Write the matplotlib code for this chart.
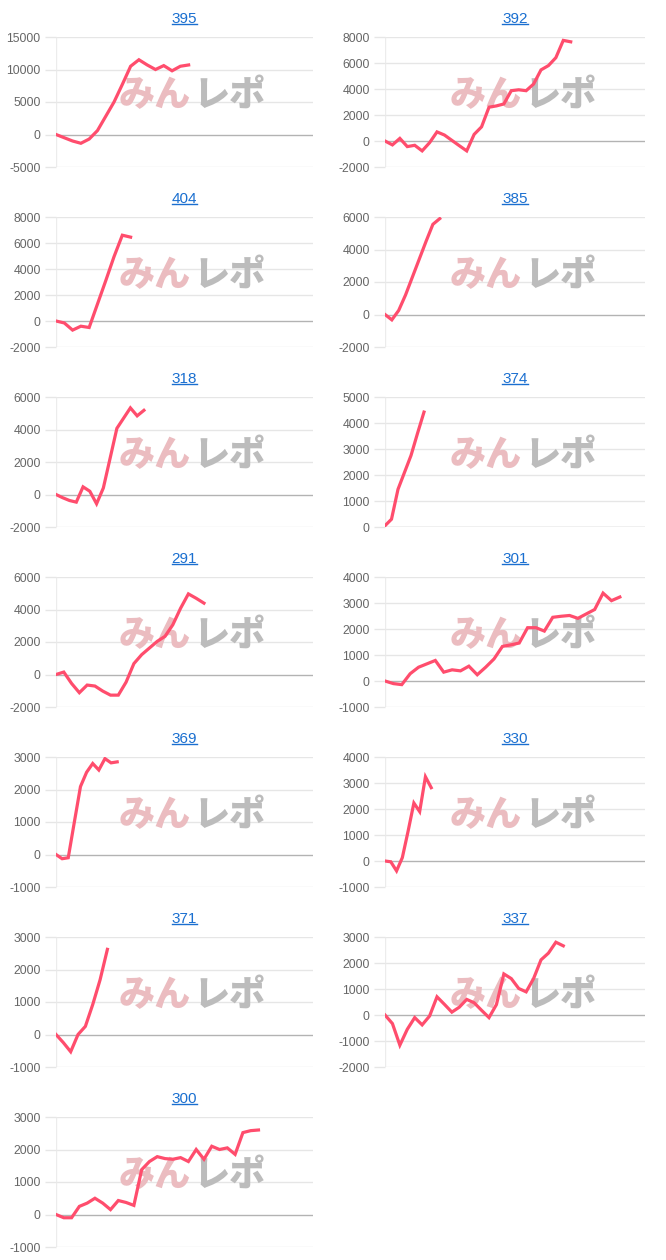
import matplotlib
matplotlib.use("Agg")
from matplotlib import pyplot as plt
from matplotlib.lines import Line2D
import numpy as np

plt.rcParams['font.family'] = ['Liberation Sans', 'Noto Sans CJK JP', 'DejaVu Sans']
plt.rcParams['axes.unicode_minus'] = False

titles = ['395', '392', '404', '385', '318', '374', '291', '301', '369', '330', '371', '337', '300']

v395 = [0, -500, -1000, -1350, -700, 600, 2800, 5000, 7700, 10500, 11500, 10700, 10000, 10600, 9800, 10500, 10700]
v392 = [0, -300, 200, -430, -330, -760, -130, 700, 460, 50, -360, -760, 510, 1090, 2600, 2700, 2850,
        3870, 3940, 3870, 4380, 5470, 5800, 6410, 7740, 7630]
v404 = [0, -150, -700, -400, -500, 1300, 3100, 4950, 6600, 6450]
v385 = [0, -330, 250, 1200, 2300, 3400, 4500, 5550, 5900]
v318 = [0, -200, -370, -470, 470, 200, -570, 400, 2230, 4070, 4700, 5330, 4840, 5180]
v374 = [50, 300, 1450, 2100, 2750, 3600, 4420]
v291 = [0, 150, -550, -1120, -650, -710, -1020, -1270, -1270, -470, 670, 1220, 1630, 2040, 2350,
        3060, 4080, 4960, 4690, 4390]
v301 = [0, -100, -140, 280, 530, 660, 790, 340, 430, 390, 570, 240, 530, 850, 1330, 1390, 1460,
        2050, 2050, 1920, 2450, 2490, 2520, 2410, 2580, 2750, 3380, 3090, 3230]
v369 = [0, -130, -100, 1000, 2090, 2530, 2800, 2600, 2950, 2820, 2850]
v330 = [0, -30, -380, 130, 1150, 2230, 1900, 3240, 2820]
v371 = [0, -250, -530, 0, 250, 920, 1680, 2620]
v337 = [0, -330, -1160, -550, -100, -380, -40, 700, 410, 110, 300, 600, 470, 180, -100, 400, 1580,
        1400, 1020, 890, 1400, 2120, 2380, 2800, 2660]
v300 = [0, -100, -100, 250, 350, 500, 350, 150, 430, 370, 280, 1380, 1630, 1780, 1720, 1700, 1750,
        1630, 2000, 1700, 2100, 2000, 2050, 1850, 2520, 2580, 2600]

series = [v395, v392, v404, v385, v318, v374, v291, v301, v369, v330, v371, v337, v300]

# number of x categories (minus one) on each chart
slots = [31, 35, 31, 38, 38, 40, 33, 31, 42, 45, 35, 35, 33]

y_ranges = [(-5000, 15000, 5000), (-2000, 8000, 2000), (-2000, 8000, 2000), (-2000, 6000, 2000),
            (-2000, 6000, 2000), (0, 5000, 1000), (-2000, 6000, 2000), (-1000, 4000, 1000),
            (-1000, 3000, 1000), (-1000, 4000, 1000), (-1000, 3000, 1000), (-2000, 3000, 1000),
            (-1000, 3000, 1000)]

W, H = 666, 1260
fig = plt.figure(figsize=(W / 100, H / 100), dpi=100)

line_color = '#ff4d6d'
grid_color = '#e6e6e6'
zero_color = '#b3b3b3'

axes = []
for i, (title, vals) in enumerate(zip(titles, series)):
    row, col = i // 2, i % 2
    x0, x1 = (56, 313) if col == 0 else (385, 645)
    top = 37 + 180 * row
    ax = fig.add_axes([x0 / W, 1 - (top + 130) / H, (x1 - x0) / W, 130 / H])
    lo, hi, step = y_ranges[i]
    ticks = np.arange(lo, hi + step, step)
    ax.set_ylim(lo, hi)
    ax.set_xlim(0, slots[i])
    ax.set_yticks(ticks)
    ax.set_xticks([])
    for t in ticks:
        ax.axhline(t, color=zero_color if t == 0 else grid_color, lw=1, zorder=1)
    ax.axvline(0, color='#ececec', lw=1, zorder=1)
    for s in ax.spines.values():
        s.set_visible(False)
    ax.tick_params(axis='y', length=8, width=1, color=grid_color, pad=3,
                   labelsize=8.8, labelcolor='#666666')
    ax.plot(np.arange(len(vals)), vals, color=line_color, lw=2.3, zorder=3,
            solid_joinstyle='miter')
    # watermark
    ax.text(0.525, 0.555, 'みん', transform=ax.transAxes, ha='right', va='center',
            fontsize=26, fontweight='heavy', color='#ebbcc0', family=['Noto Sans CJK JP'], zorder=2)
    ax.text(0.535, 0.555, 'レポ', transform=ax.transAxes, ha='left', va='center',
            fontsize=26, fontweight='heavy', color='#bcbcbc', family=['Noto Sans CJK JP'], zorder=2)
    ax.set_title(title, fontsize=11, color='#1a6fd0', pad=10)
    axes.append(ax)

# underline the titles like links
fig.canvas.draw()
renderer = fig.canvas.get_renderer()
for ax in axes:
    bb = ax.title.get_window_extent(renderer)
    y = (bb.y0 + 2) / H
    fig.add_artist(Line2D([bb.x0 / W, bb.x1 / W], [y, y], color='#1a6fd0', lw=1,
                          transform=fig.transFigure))

fig.savefig('out.png', dpi=100, facecolor='white')
